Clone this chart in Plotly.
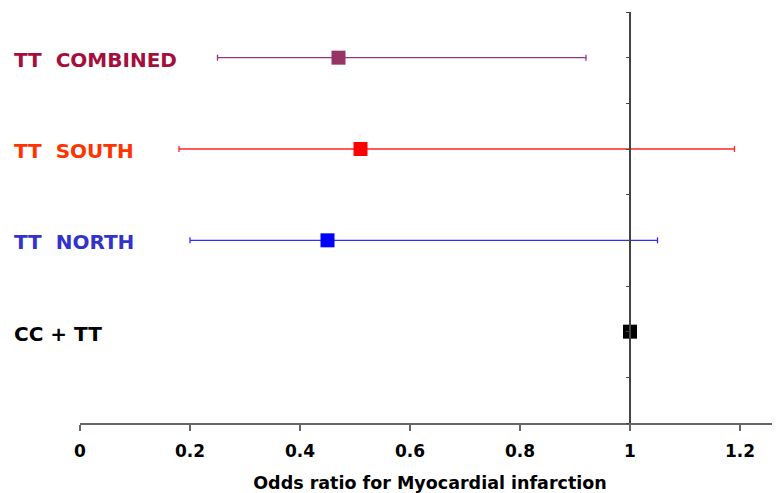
import plotly.graph_objects as go

groups = ["TT&nbsp;&nbsp;COMBINED", "TT&nbsp;&nbsp;SOUTH", "TT&nbsp;&nbsp;NORTH", "CC + TT"]
y_pos = [8, 6, 4, 2]
odds = [0.47, 0.51, 0.45, 1.0]
ci_low = [0.25, 0.18, 0.20, None]
ci_high = [0.92, 1.19, 1.05, None]
label_colors = ["#A3103C", "#FF3300", "#3333CC", "#000000"]
marker_colors = ["#993366", "#FF0000", "#0000FF", "#000000"]
line_colors = ["#993380", "#FF2626", "#2E2EFF", "#000000"]
x_ticks = [0, 0.2, 0.4, 0.6, 0.8, 1, 1.2]
x_tick_text = ["0", "0.2", "0.4", "0.6", "0.8", "1", "1.2"]

FONT = "DejaVu Sans, Liberation Sans, Arial"

fig = go.Figure()
for g, y, o, lo, hi, mc, lc in zip(groups, y_pos, odds, ci_low, ci_high, marker_colors, line_colors):
    err = None
    if lo is not None:
        err = dict(type="data", symmetric=False, array=[hi - o], arrayminus=[o - lo],
                   color=lc, thickness=1.3, width=3)
    fig.add_trace(go.Scatter(x=[o], y=[y], mode="markers", name=g,
                             marker=dict(symbol="square", size=14, color=mc),
                             error_x=err, showlegend=False, cliponaxis=False))

W = 700
for g, y, c in zip(groups, y_pos, label_colors):
    fig.add_annotation(x=-68 / W, xref="paper", y=y, yref="y", text="<b>" + g + "</b>",
                       showarrow=False, xanchor="left", yanchor="middle", yshift=-2,
                       font=dict(family=FONT, size=20, color=c))

fig.update_layout(
    width=772, height=485,
    margin=dict(l=72, r=0, t=4, b=70),
    plot_bgcolor="white", paper_bgcolor="white",
    font=dict(family=FONT, color="black"),
    xaxis=dict(range=[0, 700 / 550], tickvals=x_ticks, ticktext=x_tick_text,
               showgrid=False, zeroline=False, showline=True, linecolor="#666666", linewidth=2,
               ticks="outside", ticklen=6, tickwidth=2, tickcolor="#666666",
               ticklabelstandoff=6,
               tickfont=dict(family=FONT, size=17, color="black", weight="bold"),
               title=dict(text="<b>Odds ratio for Myocardial infarction</b>",
                          font=dict(family=FONT, size=17.5, color="black"), standoff=16)),
    yaxis=dict(range=[0, 9], anchor="free", position=550 / W, dtick=1,
               showgrid=False, zeroline=False, showline=True, linecolor="#444444", linewidth=2,
               ticks="outside", ticklen=3, tickcolor="#444444", showticklabels=False),
)

fig.write_html("out.html")
